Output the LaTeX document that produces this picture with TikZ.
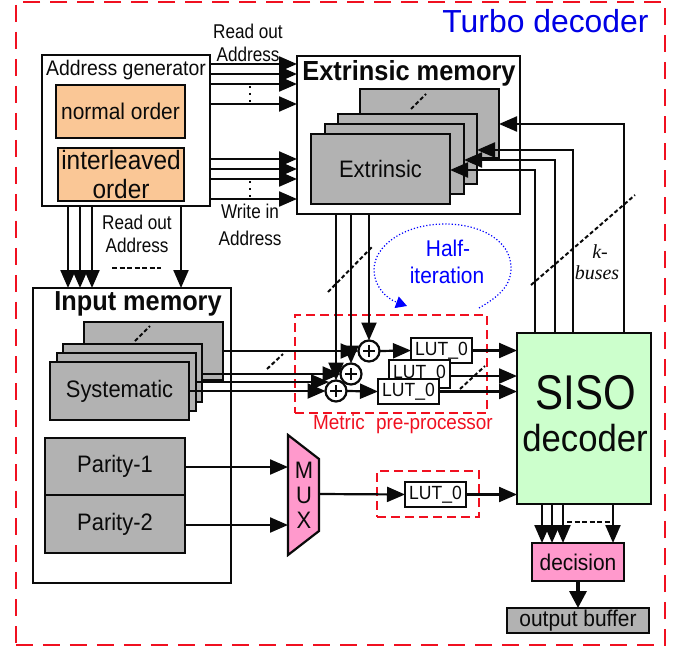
\documentclass[tikz,border=0pt]{standalone}
\usepackage{fontspec}
\setmainfont[FakeStretch=0.92]{Liberation Sans}
\newfontfamily\plainf{Liberation Sans}
\newfontfamily\narrowf[FakeStretch=0.86]{Liberation Sans}
\newfontfamily\serift{Liberation Serif}
\usetikzlibrary{arrows.meta}
\definecolor{blk}{HTML}{0A0A0A}
\definecolor{orangeb}{HTML}{FAC796}
\definecolor{grayb}{HTML}{B2B2B2}
\definecolor{pinkb}{HTML}{FF99CC}
\definecolor{greenb}{HTML}{CCFFCC}
\definecolor{redd}{HTML}{F01020}
\newcommand\fr[2]{\fontsize{#1}{#2}\selectfont}
\newcommand\fs[2]{\fontsize{\the\dimexpr #1pt*1087/1000\relax}{#2}\selectfont}
\newcommand\bx[7]{%
  \pgfmathsetmacro\cxx{(#3+#5)/2}\pgfmathsetmacro\cyy{(#4+#6)/2}%
  \pgfmathsetmacro\ww{#5-#3}\pgfmathsetmacro\hh{#6-#4}%
  \node[#2,minimum width=\ww bp,minimum height=\hh bp] (#1) at (\cxx,\cyy) {#7};}
\tikzset{
  box/.style={draw=blk,line width=2.2bp,inner sep=0pt,outer sep=0pt,align=center,text=blk},
  wbox/.style={box,fill=white},
  gbox/.style={box,fill=grayb},
  obox/.style={box,fill=orangeb},
  pbox/.style={box,fill=pinkb},
  lut/.style={box,fill=white,font=\fs{17.6}{20}},
  lab/.style={inner sep=0pt,outer sep=0pt,align=center,text=blk},
  arr/.style={draw=blk,line width=2.2bp,-{Triangle[length=18bp,width=15bp]}},
  barr/.style={draw=blk,line width=3.4bp,-{Triangle[length=17bp,width=17bp]}},
  sl/.style={draw=blk,line width=2bp,dash pattern=on 4bp off 2.5bp},
  dots/.style={draw=blk,line width=1.2bp,dash pattern=on 2bp off 5bp},
  outerd/.style={draw=redd,line width=2.4bp,dash pattern=on 17bp off 10bp},
  innerd/.style={draw=redd,line width=1.4bp,dash pattern=on 9bp off 5bp},
}
\begin{document}
\begin{tikzpicture}[x=1bp,y=-1bp]
\useasboundingbox (0,0) rectangle (682,649);
\fill[white] (0,0) rectangle (682,649);
\bx{outer}{outerd}{16}{2}{665}{645}{}
\node[lab,text=blue!90!black,font=\plainf\fr{32}{36}] (title) at (545.5,21) {Turbo decoder};
% address generator
\bx{addr}{wbox}{42}{55}{210}{206}{}
\node[lab,font=\fs{19.5}{23}] (addrt) at (126,70) {Address generator};
\bx{norm}{obox,font=\fs{21}{25}}{56}{85}{185}{138}{normal order}
\bx{inter}{obox,font=\fs{24.5}{29}}{58}{148}{184}{201}{interleaved\\order}
% extrinsic memory
\bx{extm}{wbox}{297}{56}{520}{214}{}
\node[lab,font=\bfseries\fs{25.5}{30}] (extt) at (409,73) {Extrinsic memory};
\bx{e4}{gbox}{360}{89}{499}{158}{}
\bx{e3}{gbox}{338}{114}{477}{184}{}
\bx{e2}{gbox}{325}{124}{464}{194}{}
\bx{e1}{gbox,font=\fs{22}{26}}{311}{134}{450}{204}{Extrinsic}
\coordinate (es1) at (411,109); \coordinate (es2) at (426,94);
\draw[sl] (es1) -- (es2);
% input memory
\bx{inm}{wbox}{33}{288}{231}{583}{}
\node[lab,font=\bfseries\fs{25.4}{30}] (inmt) at (138,304) {Input memory};
\bx{s4}{gbox}{84}{322}{223}{380}{}
\bx{s3}{gbox}{63}{344}{202}{402}{}
\bx{s2}{gbox}{57}{353}{196}{411}{}
\bx{s1}{gbox,font=\fs{22}{26}}{50}{362}{189}{420}{Systematic}
\coordinate (ss1) at (135,341); \coordinate (ss2) at (150,326);
\draw[sl] (ss1) -- (ss2);
\bx{p1}{gbox,font=\fs{22}{26}}{45}{438}{185}{495}{Parity-1}
\bx{p2}{gbox,font=\fs{22}{26}}{45}{495}{185}{553}{Parity-2}
% SISO
\bx{siso}{box,fill=greenb}{517}{333}{651}{504}{}
\node[lab,font=\narrowf\fr{49}{54}] (sisot) at (586,393) {SISO};
\node[lab,font=\fs{34.8}{40}] (decot) at (585,438) {decoder};
% decision / buffer
\bx{dec}{pbox,font=\fs{21}{25}}{532}{543}{624}{581}{decision}
\bx{buf}{gbox,font=\fs{21}{25}}{507}{608}{649}{633}{output buffer}
% metric preprocessor frames
\bx{mpp}{innerd}{295}{315}{487}{413}{}
\node[lab,text=redd,font=\fs{19}{23}] (mppt) at (403,424) {Metric\hspace{.55em}pre-processor};
\bx{mpp2}{innerd}{377}{471}{479}{517}{}
% LUTs
\bx{l1}{lut}{411}{338}{472}{363}{LUT\_0}
\bx{l2}{lut}{389}{360}{450}{388}{LUT\_0}
\bx{l3}{lut}{378}{379}{439}{404}{LUT\_0}
\bx{l4}{lut}{405}{482}{466}{507}{LUT\_0}
% MUX
\coordinate (m1) at (288,435); \coordinate (m2) at (319,459);
\coordinate (m3) at (319,531); \coordinate (m4) at (288,555);
\draw[fill=pinkb,draw=blk,line width=2.2bp] (m1) -- (m2) -- (m3) -- (m4) -- cycle;
\node[lab,font=\fs{22}{26}] (muxm) at (304,470) {M};
\node[lab,font=\fs{22}{26}] (muxu) at (304,495) {U};
\node[lab,font=\fs{22}{26}] (muxx) at (304,520) {X};
\coordinate (mxo) at (319,494);
% address connectors
\foreach \yy in {64,74,84,104}{ \draw[arr] (addr.east |- 0,\yy) -- (extm.west |- 0,\yy); }
\foreach \yy in {159,169,179,199}{ \draw[arr] (addr.east |- 0,\yy) -- (extm.west |- 0,\yy); }
\foreach \xx in {68,80,92,181}{ \draw[arr] (addr.south -| \xx,0) -- (inm.north -| \xx,0); }
\coordinate (d1) at (250,86); \coordinate (d2) at (250,103);
\coordinate (d3) at (250,181); \coordinate (d4) at (250,198);
\draw[dots] (d1) -- (d2); \draw[dots] (d3) -- (d4);
\node[lab,font=\narrowf\fr{20}{24}] (ro1) at (248,31) {Read out};
\node[lab,font=\narrowf\fr{20}{24}] (ro2) at (248,54) {Address};
\node[lab,font=\narrowf\fr{20}{24}] (wi1) at (250,211) {Write in};
\node[lab,font=\narrowf\fr{20}{24}] (wi2) at (250,238) {Address};
\node[lab,font=\narrowf\fr{20}{24}] (ro3) at (137,222) {Read out};
\node[lab,font=\narrowf\fr{20}{24}] (ro4) at (137,245) {Address};
\coordinate (rd1) at (112,268); \coordinate (rd2) at (161,268);
\draw[draw=blk,line width=1.6bp,dash pattern=on 5bp off 2.5bp] (rd1) -- (rd2);
% SISO to extrinsic
\foreach \xx/\yy/\tg in {624/124/e4,573/150/e3,555/160/e2,535/170/e1}{
  \draw[arr] (siso.north -| \xx,0) -- (\xx,\yy) -- (\tg.east |- 0,\yy);
}
\coordinate (kb1) at (531,285); \coordinate (kb2) at (635,195);
\draw[sl] (kb1) -- (kb2);
\node[lab,font=\serift\itshape\fr{20}{24}] (kt1) at (600,252) {k-};
\node[lab,font=\serift\itshape\fr{20}{24}] (kt2) at (597,273) {buses};
% half iteration
\coordinate (h0) at (479,308); \coordinate (h1) at (407,306);
\draw[blue,line width=1.2bp,dotted,-{Triangle[length=11bp,width=12bp]}] (h0) .. controls (500,296) and (511,285) .. (511,268) .. controls (511,240) and (480,224) .. (445,224) .. controls (405,224) and (374,245) .. (374,270) .. controls (374,285) and (385,298) .. (h1);
\node[lab,text=blue,font=\fs{21}{25}] (hf1) at (448,248) {Half-};
\node[lab,text=blue,font=\fs{21}{25}] (hf2) at (447,275) {iteration};
% adders (tips stay visible above the rings)
\foreach \n/\xx/\yy in {a1/369/351,a2/351/374,a3/336/391}{
  \node[circle,draw=blk,fill=white,line width=2.2bp,minimum size=21bp,inner sep=0pt,outer sep=0pt] (\n) at (\xx,\yy) {};
  \draw[blk,line width=1.3bp] (\n.center) ++(-6,0) -- ++(12,0) (\n.center) ++(0,-6) -- ++(0,12);
}
% extrinsic to adders
\draw[arr] (extm.south -| a1.north) -- (a1.north);
\draw[arr] (extm.south -| a2.north) -- (a2.north);
\draw[arr] (extm.south -| a3.north) -- (a3.north);
\coordinate (ed1) at (328,292); \coordinate (ed2) at (372,247);
\draw[sl] (ed1) -- (ed2);
% systematic to adders
\draw[arr] (s4.east |- a1.west) -- (a1.west);
\draw[arr] (s3.east |- a2.west) -- (a2.west);
\coordinate (tg3) at (329,382);
\draw[arr] (s2.east |- tg3) -- (tg3);
\draw[arr] (s1.east |- a3.west) -- (a3.west);
\coordinate (sd1) at (267,369); \coordinate (sd2) at (283,354);
\draw[sl] (sd1) -- (sd2);
% adders to LUTs
\draw[arr] (a1.east) -- (l1.west);
\draw[arr] (a3.east) -- (l3.west);
% LUT to SISO
\draw[arr] (l1.east) -- (siso.west |- l1.east);
\draw[arr] (l2.east |- 0,376) -- (siso.west |- 0,376);
\draw[arr] (l3.east) -- (siso.west |- l3.east);
\coordinate (ld1) at (460,389); \coordinate (ld2) at (485,366);
\draw[sl] (ld1) -- (ld2);
% parity, MUX
\draw[arr] (p1.east |- 0,467) -- (m1 |- 0,467);
\draw[arr] (p2.east |- 0,525) -- (m1 |- 0,525);
\draw[arr] (mxo) -- (l4.west);
\draw[arr] (l4.east) -- (siso.west |- l4.east);
% decision
\foreach \xx in {542,552,563,613}{ \draw[arr] (siso.south -| \xx,0) -- (dec.north -| \xx,0); }
\coordinate (sdd1) at (567,522); \coordinate (sdd2) at (610,522);
\draw[draw=blk,line width=1.6bp,dash pattern=on 5bp off 2.5bp] (sdd1) -- (sdd2);
\draw[barr] (dec.south -| 578,0) -- (buf.north -| 578,0);
\end{tikzpicture}
\end{document}
